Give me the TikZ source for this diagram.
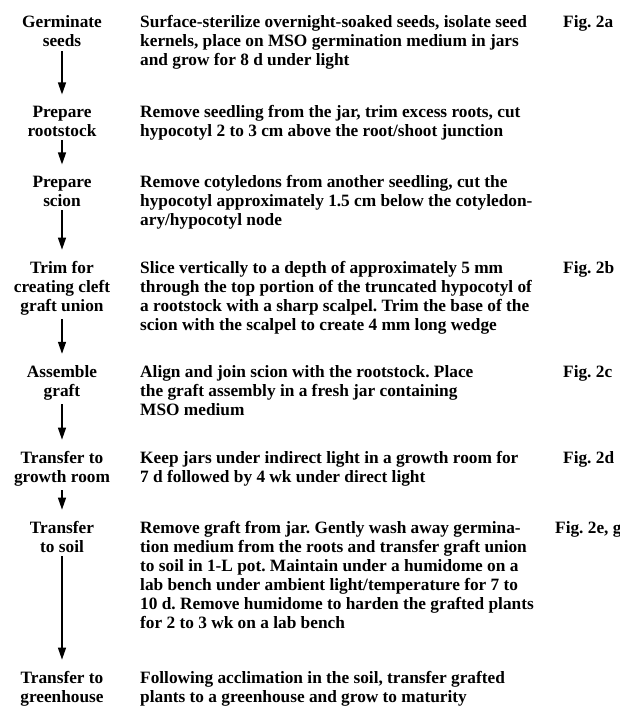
\documentclass[tikz,border=0pt]{standalone}
\usepackage{fontspec}
\setmainfont{Liberation Serif}
\usetikzlibrary{arrows.meta}
\frenchspacing

\begin{document}
\begin{tikzpicture}[
     x=1pt,y=-1pt,
     every node/.style={font=\fontsize{17.3}{19}\selectfont\bfseries,inner sep=0pt},
     lab/.style={align=center,anchor=base},
     desc/.style={align=left,anchor=base west},
     fig/.style={anchor=base west},
     flow/.style={-{Triangle[length=12pt,width=8pt]},line width=1.3pt,shorten <=4pt,shorten >=11pt}
   ]
   \path[use as bounding box] (0,0) rectangle (620,706);
   % Steps (placed by the baseline of their last line).
   \node[lab] (germ) at (62,47) {Germinate\\seeds};
   \node[lab] (root) at (62,136) {Prepare\\rootstock};
   \node[lab] (scion) at (62,206) {Prepare\\scion};
   \node[lab] (trim) at (62,311) {Trim for\\creating cleft\\graft union};
   \node[lab] (assem) at (62,396) {Assemble\\graft};
   \node[lab] (room) at (62,482) {Transfer to\\growth room};
   \node[lab] (soil) at (62,552) {Transfer\\to soil};
   \node[lab] (green) at (62,702) {Transfer to\\greenhouse};
   \draw[flow] (germ) -- (root);
   \draw[flow] (root) -- (scion);
   \draw[flow] (scion) -- (trim);
   \draw[flow] (trim) -- (assem);
   \draw[flow] (assem) -- (room);
   \draw[flow] (room) -- (soil);
   \draw[flow] (soil) -- (green);
   % Details.
   \node[desc] (dgerm) at (140,66) {Surface-sterilize overnight-soaked seeds, isolate seed\\kernels, place on MSO germination medium in jars\\and grow for 8 d under light};
   \node[desc] (droot) at (140,136) {Remove seedling from the jar, trim excess roots, cut\\hypocotyl 2 to 3 cm above the root/shoot junction};
   \node[desc] (dscion) at (140,225) {Remove cotyledons from another seedling, cut the\\hypocotyl approximately 1.5 cm below the cotyledon-\\ary/hypocotyl node};
   \node[desc] (dtrim) at (140,330) {Slice vertically to a depth of approximately 5 mm\\through the top portion of the truncated hypocotyl of\\a rootstock with a sharp scalpel. Trim the base of the\\scion with the scalpel to create 4 mm long wedge};
   \node[desc] (dassem) at (140,415) {Align and join scion with the rootstock. Place\\the graft assembly in a fresh jar containing\\MSO medium};
   \node[desc] (droom) at (140,482) {Keep jars under indirect light in a growth room for\\7 d followed by 4 wk under direct light};
   \node[desc] (dsoil) at (140,628) {Remove graft from jar. Gently wash away germina-\\tion medium from the roots and transfer graft union\\to soil in 1-L pot. Maintain under a humidome on a\\lab bench under ambient light/temperature for 7 to\\10 d. Remove humidome to harden the grafted plants\\for 2 to 3 wk on a lab bench};
   \node[desc] (dgreen) at (140,702) {Following acclimation in the soil, transfer grafted\\plants to a greenhouse and grow to maturity};
   % Figure panels.
   \node[fig] (fgerm) at (563,28) {Fig. 2a};
   \node[fig] (ftrim) at (563,273) {Fig. 2b};
   \node[fig] (fassem) at (563,377) {Fig. 2c};
   \node[fig] (froom) at (563,463) {Fig. 2d};
   \node[fig] (fsoil) at (555,533) {Fig. 2e, g};
 \end{tikzpicture}
\end{document}
